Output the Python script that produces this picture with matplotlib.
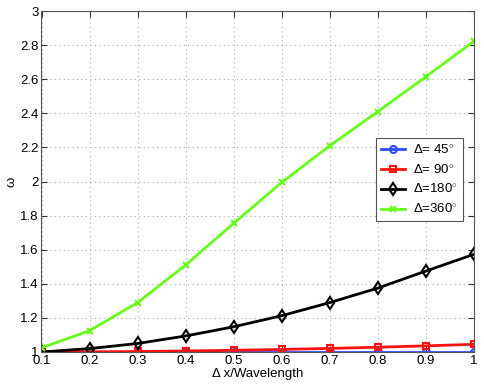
import numpy as np
import matplotlib
matplotlib.use("Agg")
import matplotlib.pyplot as plt

plt.rcParams['font.family'] = ['Liberation Sans', 'DejaVu Sans']
plt.rcParams['mathtext.fontset'] = 'custom'
plt.rcParams['mathtext.rm'] = 'Liberation Sans'

# data
dx = [0.1, 0.2, 0.3, 0.4, 0.5, 0.6, 0.7, 0.8, 0.9, 1.0]
w45 = [1.0, 1.0, 1.0, 1.0, 1.0, 1.0, 1.0, 1.0, 1.0, 1.0]
w90 = [1.0, 1.001, 1.003, 1.006, 1.01, 1.015, 1.021, 1.028, 1.036, 1.045]
w180 = [1.0, 1.02, 1.05, 1.094, 1.148, 1.213, 1.29, 1.375, 1.475, 1.573]
w360 = [1.025, 1.125, 1.29, 1.51, 1.755, 1.995, 2.21, 2.41, 2.615, 2.823]

labels = ['\u0394= 45$^{\\circ}$', '\u0394= 90$^{\\circ}$',
          '\u0394=180$^{\\circ}$', '\u0394=360$^{\\circ}$']

fig = plt.figure(figsize=(4.85, 3.88), dpi=100)
ax = fig.add_axes([41.5 / 485, 36 / 388, (474 - 41.5) / 485, (352 - 11) / 388])

ax.plot(dx, w45, color='#2f4dff', lw=2, marker='o', ms=5, mfc='none', mew=1.5, label=labels[0])
ax.plot(dx, w90, color='#ff1010', lw=2, marker='s', ms=5, mfc='none', mew=1.5, label=labels[1])
ax.plot(dx, w180, color='black', lw=2, marker='d', ms=6, mfc='none', mew=1.5, label=labels[2])
ax.plot(dx, w360, color='#66ff1a', lw=2, marker='x', ms=5, mew=1.5, label=labels[3])

ax.set_xlim(0.1, 1)
ax.set_ylim(1, 3)
ax.set_xticks(np.arange(0.1, 1.01, 0.1))
ax.set_xticklabels(['0.1', '0.2', '0.3', '0.4', '0.5', '0.6', '0.7', '0.8', '0.9', '1'])
ax.set_yticks(np.arange(1, 3.01, 0.2))
ax.set_yticklabels(['1', '1.2', '1.4', '1.6', '1.8', '2', '2.2', '2.4', '2.6', '2.8', '3'])
ax.tick_params(direction='in', top=True, right=True, labelsize=9.5, length=4, pad=2, color='#333333')
ax.grid(True, linestyle=(0, (1, 3)), color='#aaaaaa', lw=0.8)
for s in ax.spines.values():
    s.set_color('#555555')

ax.set_xlabel('\u0394 x/Wavelength', fontsize=9.5, labelpad=1)
ax.set_ylabel('\u03c9', fontsize=9.5, labelpad=2)

leg = ax.legend(loc='upper left', bbox_to_anchor=(0.773, 0.628), borderaxespad=0,
                fontsize=9.5, fancybox=False, framealpha=1, edgecolor='#555555',
                handlelength=1.8, borderpad=0.4, labelspacing=0.45, handletextpad=0.6)
leg.get_frame().set_linewidth(0.8)

fig.savefig('out.png', dpi=100)
